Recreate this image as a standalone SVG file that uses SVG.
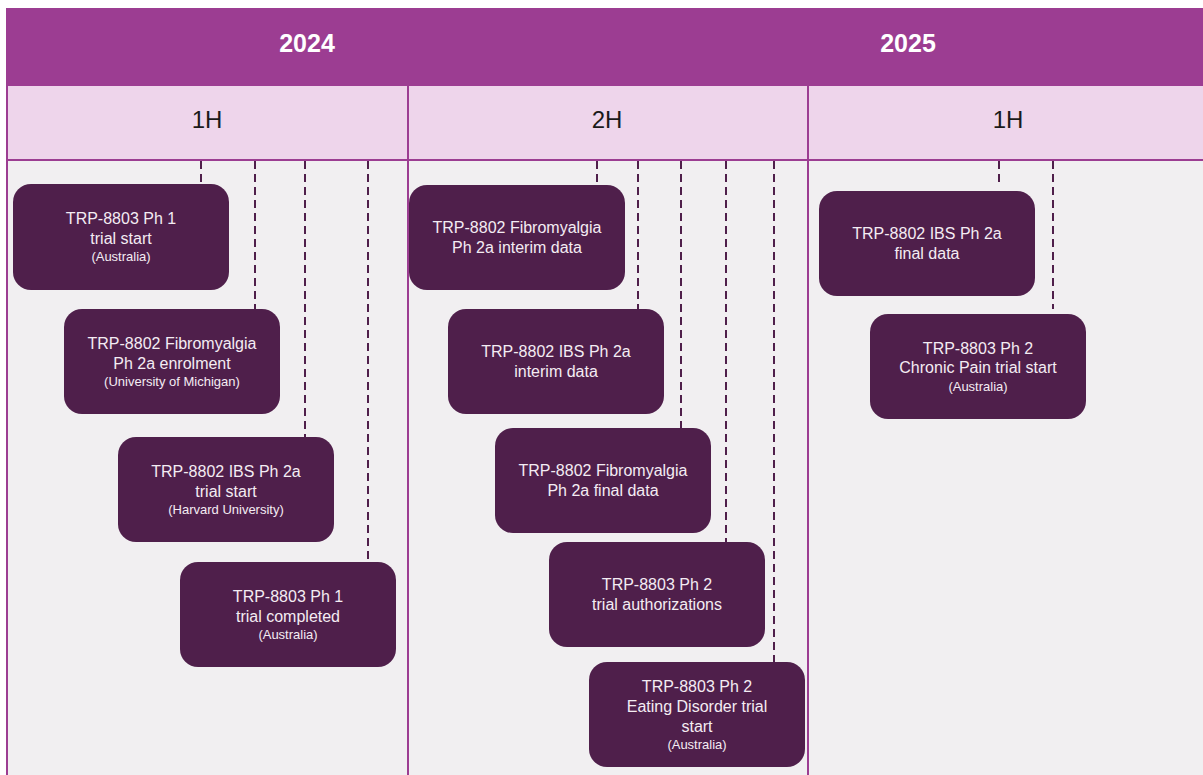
<svg xmlns="http://www.w3.org/2000/svg" width="1203" height="775" viewBox="0 0 1203 775">
  <style>
    .year { font-family: "Liberation Sans", Arial, sans-serif; font-size: 25px; font-weight: bold; fill: #ffffff; text-anchor: middle; }
    .half { font-family: "Liberation Sans", Arial, sans-serif; font-size: 24px; fill: #1a1a1a; text-anchor: middle; }
    .box { fill: #4f1f4b; }
    .t { font-family: "Liberation Sans", Arial, sans-serif; font-size: 16px; fill: #f4ecf3; text-anchor: middle; }
    .s { font-family: "Liberation Sans", Arial, sans-serif; font-size: 13px; fill: #f4ecf3; text-anchor: middle; }
    .grid { stroke: #9c3d92; stroke-width: 2; fill: none; }
    .dash { stroke: #4f1f4b; stroke-width: 2; stroke-dasharray: 8 5; fill: none; }
  </style>

  <!-- page background -->
  <rect x="0" y="0" width="1203" height="775" fill="#ffffff"/>

  <!-- timeline body -->
  <g id="timeline-frame">
    <rect x="6" y="8" width="1197" height="78" fill="#9c3d92"/>
    <rect x="6" y="86" width="1197" height="74" fill="#eed5eb"/>
    <rect x="6" y="160" width="1197" height="615" fill="#f1eff1"/>
    <line class="grid" x1="7" y1="86" x2="7" y2="775"/>
    <line class="grid" x1="408" y1="86" x2="408" y2="775"/>
    <line class="grid" x1="808" y1="86" x2="808" y2="775"/>
    <line class="grid" x1="6" y1="160" x2="1203" y2="160"/>
    <text class="year" x="307" y="52">2024</text>
    <text class="year" x="908" y="52">2025</text>
    <text class="half" x="207" y="128">1H</text>
    <text class="half" x="607" y="128">2H</text>
    <text class="half" x="1008" y="128">1H</text>
  </g>

  <!-- milestone ticks -->
  <g id="connectors">
    <line class="dash" x1="201" y1="161" x2="201" y2="184"/>
    <line class="dash" x1="255" y1="161" x2="255" y2="309"/>
    <line class="dash" x1="305" y1="161" x2="305" y2="437"/>
    <line class="dash" x1="368" y1="161" x2="368" y2="562"/>
    <line class="dash" x1="597" y1="161" x2="597" y2="185"/>
    <line class="dash" x1="638" y1="161" x2="638" y2="309"/>
    <line class="dash" x1="681" y1="161" x2="681" y2="428"/>
    <line class="dash" x1="726" y1="161" x2="726" y2="542"/>
    <line class="dash" x1="774" y1="161" x2="774" y2="662"/>
    <line class="dash" x1="999" y1="161" x2="999" y2="184"/>
    <line class="dash" x1="1053" y1="161" x2="1053" y2="309"/>
  </g>

  <!-- 2024 1H -->
  <g id="m1">
    <rect class="box" x="13" y="184" width="216" height="106" rx="18"/>
    <text class="t" x="121" y="224">TRP-8803 Ph 1</text>
    <text class="t" x="121" y="244">trial start</text>
    <text class="s" x="121" y="261">(Australia)</text>
  </g>
  <g id="m2">
    <rect class="box" x="64" y="309" width="216" height="105" rx="18"/>
    <text class="t" x="172" y="349">TRP-8802 Fibromyalgia</text>
    <text class="t" x="172" y="369">Ph 2a enrolment</text>
    <text class="s" x="172" y="386">(University of Michigan)</text>
  </g>
  <g id="m3">
    <rect class="box" x="118" y="437" width="216" height="105" rx="18"/>
    <text class="t" x="226" y="477">TRP-8802 IBS Ph 2a</text>
    <text class="t" x="226" y="497">trial start</text>
    <text class="s" x="226" y="514">(Harvard University)</text>
  </g>
  <g id="m4">
    <rect class="box" x="180" y="562" width="216" height="105" rx="18"/>
    <text class="t" x="288" y="602">TRP-8803 Ph 1</text>
    <text class="t" x="288" y="622">trial completed</text>
    <text class="s" x="288" y="639">(Australia)</text>
  </g>

  <!-- 2024 2H -->
  <g id="m5">
    <rect class="box" x="409" y="185" width="216" height="105" rx="18"/>
    <text class="t" x="517" y="233">TRP-8802 Fibromyalgia</text>
    <text class="t" x="517" y="253">Ph 2a interim data</text>
  </g>
  <g id="m6">
    <rect class="box" x="448" y="309" width="216" height="105" rx="18"/>
    <text class="t" x="556" y="357">TRP-8802 IBS Ph 2a</text>
    <text class="t" x="556" y="377">interim data</text>
  </g>
  <g id="m7">
    <rect class="box" x="495" y="428" width="216" height="105" rx="18"/>
    <text class="t" x="603" y="476">TRP-8802 Fibromyalgia</text>
    <text class="t" x="603" y="496">Ph 2a final data</text>
  </g>
  <g id="m8">
    <rect class="box" x="549" y="542" width="216" height="105" rx="18"/>
    <text class="t" x="657" y="590">TRP-8803 Ph 2</text>
    <text class="t" x="657" y="610">trial authorizations</text>
  </g>
  <g id="m9">
    <rect class="box" x="589" y="662" width="216" height="105" rx="18"/>
    <text class="t" x="697" y="692">TRP-8803 Ph 2</text>
    <text class="t" x="697" y="712">Eating Disorder trial</text>
    <text class="t" x="697" y="732">start</text>
    <text class="s" x="697" y="749">(Australia)</text>
  </g>

  <!-- 2025 1H -->
  <g id="m10">
    <rect class="box" x="819" y="191" width="216" height="105" rx="18"/>
    <text class="t" x="927" y="239">TRP-8802 IBS Ph 2a</text>
    <text class="t" x="927" y="259">final data</text>
  </g>
  <g id="m11">
    <rect class="box" x="870" y="314" width="216" height="105" rx="18"/>
    <text class="t" x="978" y="354">TRP-8803 Ph 2</text>
    <text class="t" x="978" y="373">Chronic Pain trial start</text>
    <text class="s" x="978" y="391">(Australia)</text>
  </g>
</svg>
